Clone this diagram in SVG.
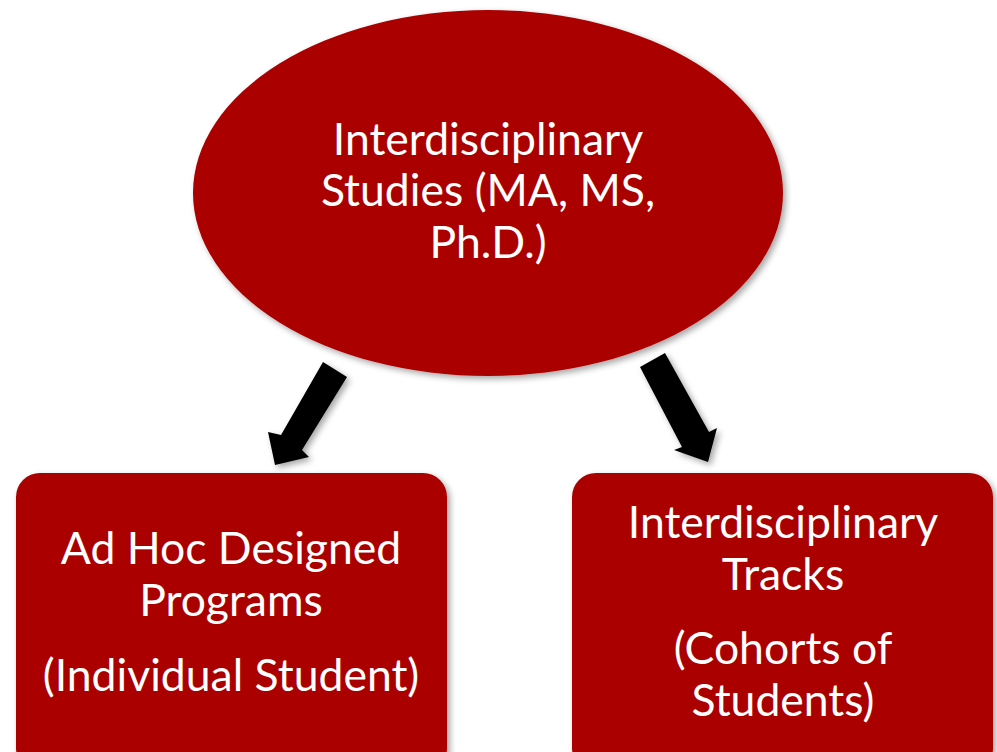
<svg xmlns="http://www.w3.org/2000/svg" width="997" height="752" viewBox="0 0 997 752">
<defs>
<filter id="sh" x="-10%" y="-10%" width="130%" height="130%">
<feDropShadow dx="3" dy="3" stdDeviation="3" flood-color="#000" flood-opacity="0.35"/>
</filter>
</defs>
<style>
.node{fill:#AA0000;filter:url(#sh)}
.lbl{fill:#fff;font-family:Lato,"Open Sans","Liberation Sans",sans-serif;font-size:44.5px;text-anchor:middle}
.arr{fill:#000;filter:url(#sh)}
</style>
<rect width="997" height="752" fill="#fff"/>
<g id="connectors">
<polygon class="arr" points="323,362 347,377 302,450 309,457 275,465 268,432 281,435"/>
<polygon class="arr" points="640,367 665,353 709,432 717,428 708,462 674,450 682,447"/>
</g>
<g id="top">
<ellipse class="node" cx="488" cy="193" rx="295" ry="183"/>
<text class="lbl" x="488" y="155">Interdisciplinary</text>
<text class="lbl" x="488" y="206">Studies (MA, MS,</text>
<text class="lbl" x="488" y="258">Ph.D.)</text>
</g>
<g id="adhoc">
<rect class="node" x="16" y="473" width="431" height="300" rx="24"/>
<text class="lbl" x="231" y="564">Ad Hoc Designed</text>
<text class="lbl" x="231" y="616">Programs</text>
<text class="lbl" x="231" y="691">(Individual Student)</text>
</g>
<g id="tracks">
<rect class="node" x="572" y="473" width="421" height="300" rx="24"/>
<text class="lbl" x="783" y="538">Interdisciplinary</text>
<text class="lbl" x="783" y="590">Tracks</text>
<text class="lbl" x="783" y="664">(Cohorts of</text>
<text class="lbl" x="783" y="716">Students)</text>
</g>
</svg>
